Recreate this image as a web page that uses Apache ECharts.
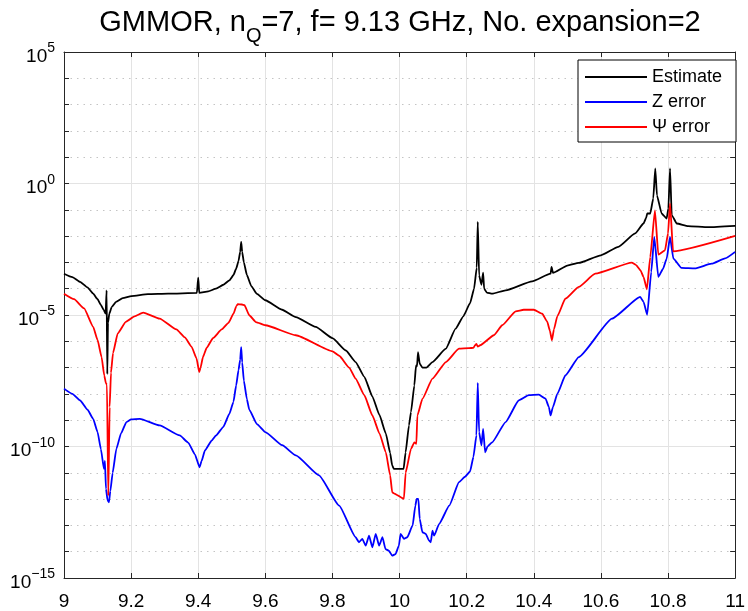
<!DOCTYPE html>
<html>
<head>
<meta charset="utf-8">
<script src="https://cdn.jsdelivr.net/npm/echarts@6/dist/echarts.min.js"></script>
<style>
  html, body { margin: 0; padding: 0; background: #ffffff; }
  #chart { width: 748px; height: 611px; }
</style>
</head>
<body>
<div id="chart"></div>
<script>
// Frequency sweep (GHz) and error levels, stored as decade exponents (log10 of the value)
const xTicks = [9, 9.2, 9.4, 9.6, 9.8, 10, 10.2, 10.4, 10.6, 10.8, 11];
const decadeRange = [-15, 5];
const legendNames = ['Estimate', 'Z error', '\u03A8 error'];

const estimateFreq = [
  9.000, 9.025, 9.048, 9.070, 9.087, 9.100, 9.110, 9.118, 9.124, 9.127, 9.129, 9.131, 9.135, 9.142,
  9.155, 9.175, 9.201, 9.250, 9.310, 9.396, 9.400, 9.403, 9.430, 9.453, 9.475, 9.493, 9.505, 9.513,
  9.520, 9.525, 9.528, 9.531, 9.536, 9.545, 9.558, 9.575, 9.600, 9.650, 9.691, 9.750, 9.800, 9.840,
  9.869, 9.895, 9.919, 9.940, 9.959, 9.972, 9.978, 9.983, 10.012, 10.018, 10.028, 10.034, 10.044,
  10.049, 10.052, 10.055, 10.060, 10.068, 10.080, 10.098, 10.138, 10.167, 10.190, 10.210, 10.222,
  10.230, 10.233, 10.237, 10.244, 10.249, 10.252, 10.260, 10.276, 10.316, 10.395, 10.450, 10.453,
  10.457, 10.500, 10.534, 10.600, 10.652, 10.702, 10.727, 10.735, 10.738, 10.747, 10.756, 10.762,
  10.767, 10.781, 10.796, 10.801, 10.806, 10.811, 10.826, 10.860, 10.920, 11.000
];
const estimateExp = [
  -3.43, -3.56, -3.74, -3.95, -4.19, -4.40, -4.62, -4.80, -4.95, -4.06, -7.25, -5.30, -4.95, -4.70,
  -4.50, -4.36, -4.28, -4.21, -4.19, -4.16, -3.58, -4.16, -4.10, -4.00, -3.85, -3.68, -3.48, -3.24,
  -2.95, -2.60, -2.22, -2.60, -3.00, -3.48, -3.90, -4.20, -4.44, -4.80, -5.08, -5.45, -5.88, -6.35,
  -6.79, -7.35, -8.10, -8.80, -9.50, -10.25, -10.72, -10.85, -10.85, -10.22, -9.20, -8.69, -7.68,
  -6.92, -6.95, -6.41, -6.85, -7.00, -7.00, -6.79, -6.28, -5.52, -5.05, -4.55, -4.00,
  -3.20, -1.46, -3.49, -3.85, -3.39, -4.00, -4.15, -4.19, -4.06, -3.72, -3.43, -3.17,
  -3.40, -3.12, -3.02, -2.73, -2.41, -1.90, -1.52, -1.30, -1.14, -1.14, -0.57, 0.57,
  -0.45, -1.14, -1.33, -0.95, 0.57, -1.20, -1.52, -1.62, -1.66, -1.61
];

const zErrFreq = [
  9.000, 9.025, 9.048, 9.070, 9.087, 9.100, 9.110, 9.119, 9.122, 9.125, 9.130, 9.134, 9.138, 9.145,
  9.156, 9.170, 9.186, 9.200, 9.226, 9.285, 9.345, 9.370, 9.390, 9.404, 9.410, 9.420, 9.440, 9.453,
  9.475, 9.493, 9.505, 9.513, 9.520, 9.525, 9.528, 9.531, 9.536, 9.545, 9.552, 9.575, 9.600, 9.650,
  9.691, 9.760, 9.820, 9.869, 9.879, 9.889, 9.899, 9.909, 9.919, 9.929, 9.939, 9.949, 9.958, 9.968,
  9.978, 9.988, 9.998, 10.003, 10.013, 10.023, 10.039, 10.047, 10.051, 10.056, 10.060, 10.068, 10.078,
  10.088, 10.093, 10.098, 10.103, 10.118, 10.148, 10.177, 10.195, 10.210, 10.220, 10.229, 10.233,
  10.237, 10.244, 10.249, 10.255, 10.262, 10.276, 10.316, 10.355, 10.385, 10.415, 10.435, 10.445,
  10.450, 10.457, 10.470, 10.494, 10.534, 10.633, 10.717, 10.727, 10.738, 10.750, 10.759, 10.771,
  10.785, 10.796, 10.806, 10.816, 10.840, 10.880, 10.930, 10.970, 11.000
];
const zErrExp = [
  -7.80, -8.00, -8.25, -8.60, -8.95, -9.45, -10.10, -10.85, -10.55, -11.61, -12.05, -12.12, -11.70, -11.00,
  -10.09, -9.50, -9.07, -8.97, -8.95, -9.20, -9.58, -9.85, -10.30, -10.79, -10.55, -10.15, -9.78, -9.58,
  -9.25, -8.75, -8.30, -7.68, -7.10, -6.70, -6.22, -6.80, -7.50, -8.20, -8.60, -9.15, -9.45, -9.95,
  -10.34, -11.10, -12.25, -13.45, -13.64, -13.51, -13.77, -13.39, -13.83, -13.32, -13.77, -13.45, -13.90, -13.96,
  -14.15, -14.09, -13.77, -13.32, -13.51, -13.45, -13.00, -12.25, -11.99, -11.99, -12.75, -13.26, -13.32,
  -13.58, -13.64, -13.20, -13.39, -12.94, -12.25, -11.36, -11.15, -10.95, -10.40, -9.58, -7.58,
  -9.45, -9.96, -9.33, -10.22, -10.00, -9.84, -9.07, -8.25, -8.05, -8.03, -8.18, -8.50,
  -8.82, -8.50, -8.00, -7.30, -6.60, -5.14, -4.31, -4.50, -4.99, -3.36, -2.03, -3.55,
  -3.25, -2.86, -2.03, -2.86, -3.21, -3.23, -3.05, -2.85, -2.60
];

const psiErrFreq = [
  9.000, 9.030, 9.060, 9.087, 9.100, 9.112, 9.120, 9.125, 9.128, 9.132, 9.136, 9.140, 9.146, 9.160,
  9.185, 9.210, 9.236, 9.285, 9.335, 9.360, 9.380, 9.395, 9.403, 9.407, 9.414, 9.425, 9.444, 9.470,
  9.490, 9.505, 9.514, 9.518, 9.530, 9.538, 9.552, 9.572, 9.600, 9.691, 9.800, 9.820, 9.850, 9.869,
  9.895, 9.919, 9.940, 9.959, 9.972, 9.978, 9.983, 10.013, 10.018, 10.034, 10.044, 10.050, 10.053,
  10.068, 10.098, 10.138, 10.177, 10.207, 10.220, 10.225, 10.229, 10.233, 10.240, 10.281, 10.306,
  10.346, 10.370, 10.400, 10.425, 10.440, 10.448, 10.454, 10.460, 10.470, 10.494, 10.534, 10.583,
  10.692, 10.705, 10.718, 10.727, 10.737, 10.747, 10.761, 10.771, 10.791, 10.800, 10.806, 10.815, 11.000
];
const psiErrExp = [
  -4.19, -4.40, -4.75, -5.45, -5.95, -6.60, -7.30, -7.60, -7.65, -11.87, -8.50, -7.20, -6.45, -5.70,
  -5.25, -5.05, -4.91, -5.14, -5.55, -5.85, -6.20, -6.65, -7.17, -7.00, -6.60, -6.25, -5.88, -5.55,
  -5.30, -4.95, -4.65, -4.59, -4.60, -4.63, -5.01, -5.27, -5.39, -5.77, -6.38, -6.55, -7.00, -7.42,
  -8.05, -8.82, -9.50, -10.22, -11.10, -11.74, -11.78, -11.99, -11.00, -10.09, -9.84, -9.90, -8.82,
  -8.19, -7.42, -6.79, -6.28, -6.26, -6.25, -6.15, -6.10, -6.20, -6.15, -5.77, -5.39,
  -4.86, -4.80, -4.80, -4.95, -5.25, -5.60, -5.96, -5.55, -5.05, -4.38, -3.93, -3.43,
  -3.01, -3.10, -3.30, -3.55, -4.02, -2.80, -1.02, -2.70, -2.54, -1.90, -0.76, -2.58, -1.99
];

function toPoints(freq, exps) {
  return freq.map((f, i) => [f, Math.pow(10, exps[i])]);
}

const FONT = '"Liberation Sans", Arial, Helvetica, sans-serif';
const INK = '#262626';

const chart = echarts.init(document.getElementById('chart'), null, { renderer: 'canvas' });

// Decade ticks are drawn by linear axes spanning the same exponent range as the log axis
function decadeLabel(e) {
  if (e % 5 !== 0) return '';
  const exp = e < 0 ? '\u2212' + Math.abs(e) : String(e);
  return '{b|10}{s|' + exp + '}';
}

const decadeAxisBase = {
  type: 'value',
  min: decadeRange[0],
  max: decadeRange[1],
  interval: 1
};

function lineSeries(name, freq, exps, color) {
  return {
    name: name,
    type: 'line',
    yAxisIndex: 0,
    data: toPoints(freq, exps),
    symbol: 'none',
    showSymbol: false,
    smooth: 0.15,
    smoothMonotone: 'x',
    lineStyle: { color: color, width: 1.8 },
    itemStyle: { color: color }
  };
}

chart.setOption({
  animation: false,
  backgroundColor: '#ffffff',
  textStyle: { fontFamily: FONT },
  graphic: [{
    type: 'text',
    x: 400,
    y: 6,
    z: 10,
    style: {
      text: '{a|GMMOR, n}{q|Q}{a|=7, f= 9.13 GHz, No. expansion=2}',
      align: 'center',
      verticalAlign: 'top',
      fill: '#000',
      rich: {
        a: { fontSize: 29, fontFamily: FONT, lineHeight: 34, color: '#000' },
        q: { fontSize: 20, fontFamily: FONT, lineHeight: 20, padding: [26, 0, 0, 0], color: '#000' }
      }
    }
  }],
  grid: {
    left: 64, right: 11, top: 52, bottom: 33,
    show: true, backgroundColor: '#ffffff', borderWidth: 0
  },
  legend: {
    data: legendNames.map(n => ({ name: n, icon: 'rect' })),
    orient: 'vertical',
    left: 578,
    top: 60,
    padding: [7, 14, 5, 7],
    itemWidth: 62,
    itemHeight: 2,
    itemGap: 5,
    backgroundColor: '#ffffff',
    borderColor: '#000000',
    borderWidth: 1,
    borderRadius: 0,
    textStyle: { fontSize: 18, lineHeight: 20, color: '#000', fontFamily: FONT }
  },
  xAxis: [{
    type: 'value',
    min: xTicks[0],
    max: xTicks[xTicks.length - 1],
    interval: 0.2,
    position: 'bottom',
    axisLine: { show: true, onZero: false, lineStyle: { color: INK, width: 1 } },
    axisTick: { show: true, inside: true, length: 5, lineStyle: { color: INK } },
    axisLabel: { fontSize: 19, color: '#000', margin: 14, fontFamily: FONT, showMinLabel: true, showMaxLabel: true },
    splitLine: { show: true, lineStyle: { color: '#e3e3e3', width: 1 } }
  }, {
    type: 'value',
    min: xTicks[0],
    max: xTicks[xTicks.length - 1],
    interval: 0.2,
    position: 'top',
    axisLine: { show: true, onZero: false, lineStyle: { color: INK, width: 1 } },
    axisTick: { show: true, inside: true, length: 5, lineStyle: { color: INK } },
    axisLabel: { show: false },
    splitLine: { show: false }
  }],
  yAxis: [{
    // value axis used by the series
    type: 'log',
    logBase: 10,
    min: Math.pow(10, decadeRange[0]),
    max: Math.pow(10, decadeRange[1]),
    show: false,
    splitLine: { show: false }
  }, Object.assign({}, decadeAxisBase, {
    position: 'left',
    axisLine: { show: true, onZero: false, lineStyle: { color: INK, width: 1 } },
    axisTick: { show: true, inside: true, length: 5, lineStyle: { color: INK } },
    axisLabel: {
      show: true, margin: 9, color: '#000', fontFamily: FONT,
      showMinLabel: true, showMaxLabel: true,
      formatter: decadeLabel,
      rich: {
        b: { fontSize: 19, fontFamily: FONT, color: '#000', padding: [9, 0, 0, 0] },
        s: { fontSize: 14, fontFamily: FONT, color: '#000', padding: [0, 0, 7, 0] }
      }
    },
    splitLine: { show: true, lineStyle: { color: '#c4c4c4', width: 1, type: [1.5, 5] } }
  }), Object.assign({}, decadeAxisBase, {
    position: 'right',
    axisLine: { show: true, onZero: false, lineStyle: { color: INK, width: 1 } },
    axisTick: { show: true, inside: true, length: 5, lineStyle: { color: INK } },
    axisLabel: { show: false },
    splitLine: { show: false }
  }), Object.assign({}, decadeAxisBase, {
    interval: 5,
    position: 'left',
    axisLine: { show: false },
    axisTick: { show: false },
    axisLabel: { show: false },
    splitLine: { show: true, lineStyle: { color: '#e3e3e3', width: 1 } }
  })],
  series: [
    lineSeries(legendNames[0], estimateFreq, estimateExp, '#000000'),
    lineSeries(legendNames[1], zErrFreq, zErrExp, '#0000ff'),
    lineSeries(legendNames[2], psiErrFreq, psiErrExp, '#ff0000')
  ]
});
</script>
</body>
</html>
